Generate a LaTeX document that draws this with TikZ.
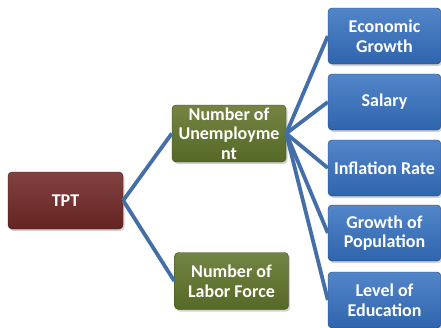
\documentclass[tikz,border=0pt]{standalone}
\usepackage{fontspec}
\setmainfont{Carlito}
\usetikzlibrary{shadows}
\definecolor{tptRed}{RGB}{112,40,38}
\definecolor{unGreen}{RGB}{96,116,42}
\definecolor{boxBlue}{RGB}{52,112,192}
\definecolor{lineBlue}{RGB}{68,110,168}

\begin{document}
\begin{tikzpicture}[x=1pt, y=-1pt]%
  \tikzset{link/.style={draw, line width=3.8pt, lineBlue}}
  \tikzstyle{every node}=[rectangle, rounded corners=4pt, text=white, font=\fontsize{18}{19.5}\selectfont\bfseries, align=center, inner sep=0pt, drop shadow={opacity=0.35, shadow xshift=1.5pt, shadow yshift=-2pt}]
  \tikzset{redbox/.style={top color=tptRed!88!white, bottom color=tptRed!90!black, draw=tptRed!60!black, minimum width=115pt, minimum height=57pt}}
  \tikzset{greenbox/.style={top color=unGreen!88!white, bottom color=unGreen!90!black, draw=unGreen!60!black, minimum width=114pt, minimum height=57pt}}
  \tikzset{bluebox/.style={top color=boxBlue!85!white, bottom color=boxBlue!90!black, draw=boxBlue!60!black, minimum width=113pt, minimum height=56pt}}

  \useasboundingbox (0,0) rectangle (441,327);

  \node[redbox] at (65.5,200.5) (TPT) {TPT};
  \node[greenbox] at (229,133.5) (NU) {Number of\\Unemployme\\nt};
  \node[greenbox] at (231.5,281) (NLF) {Number of\\Labor Force};

  \node[bluebox] at (384.5,36) (EG) {Economic\\Growth};
  \node[bluebox] at (384.5,102) (SAL) {Salary};
  \node[bluebox] at (384.5,168) (IR) {Inflation Rate};
  \node[bluebox] at (384.5,233) (GP) {Growth of\\Population};
  \node[bluebox] at (384.5,300) (LE) {Level of\\Education};

  \path[link] (TPT.east) edge (NU.west);
  \path[link] (TPT.east) edge (NLF.west);
  \path[link] (NU.east) edge (EG.west);
  \path[link] (NU.east) edge (SAL.west);
  \path[link] (NU.east) edge (IR.west);
  \path[link] (NU.east) edge (GP.west);
  \path[link] (NU.east) edge (LE.west);
\end{tikzpicture}
\end{document}
